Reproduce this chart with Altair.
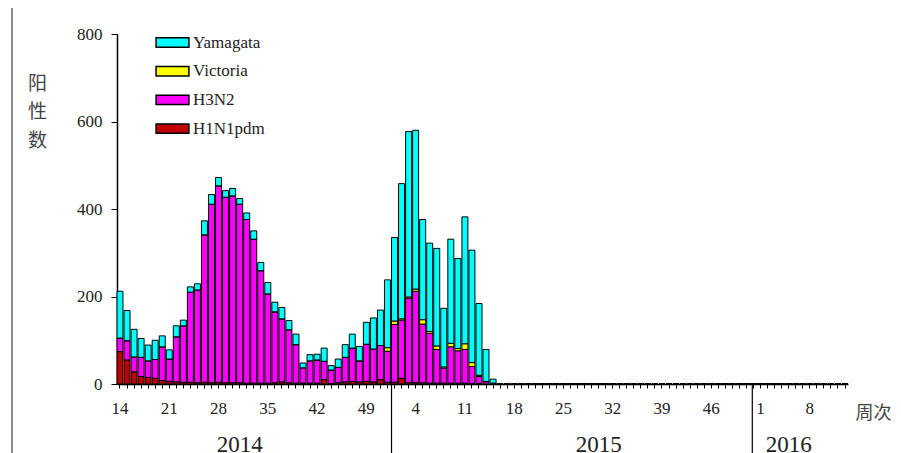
import altair as alt
import pandas as pd

# ---- categories ----
years = [2014] * 39 + [2015] * 52 + [2016] * 13
weeks = list(range(14, 53)) + list(range(1, 53)) + list(range(1, 14))

# ---- series values (2014 wk14 .. 2015 wk15, later weeks are zero) ----
h1n1_vals = [74, 55, 28, 17, 15, 13, 8, 6, 5, 4, 4, 3, 4, 3, 4, 3, 3, 3, 2, 2,
             2, 2, 3, 5, 3, 2, 2, 2, 2, 10, 1, 3, 5, 6, 5, 6, 5, 10, 4,
             4, 13, 3, 3, 3, 2, 2, 2, 2, 2, 2, 1, 1, 0, 0]
h3n2_vals = [31, 44, 34, 44, 38, 43, 77, 51, 103, 129, 206, 212, 337, 408, 449, 424,
             427, 408, 374, 329, 257, 204, 162, 144, 121, 88, 35, 51, 53, 42, 31, 35,
             56, 76, 48, 85, 75, 78, 71,
             132, 133, 193, 209, 134, 114, 77, 34, 83, 74, 77, 39, 16, 5, 2]
victoria_vals = [0] * 38 + [8] + \
                [8, 3, 3, 5, 10, 4, 8, 3, 8, 5, 13, 9, 3, 1, 0]
yamagata_vals = [107, 69, 63, 43, 36, 44, 25, 21, 25, 13, 12, 14, 32, 22, 19, 15,
                 17, 13, 15, 19, 19, 26, 22, 26, 21, 24, 11, 14, 13, 30, 10, 19,
                 29, 32, 33, 50, 71, 81, 155,
                 191, 309, 378, 363, 229, 202, 223, 134, 238, 206, 290, 257, 164, 73, 9]
n_zero = len(weeks) - len(h1n1_vals)
h1n1_vals += [0] * n_zero
h3n2_vals += [0] * n_zero
victoria_vals += [0] * n_zero
yamagata_vals += [0] * n_zero

series_names = ["Yamagata", "Victoria", "H3N2", "H1N1pdm"]
series_colors = ["#00FFFF", "#FFFF00", "#FF00FF", "#C00000"]
stack_rank = {"H1N1pdm": 0, "H3N2": 1, "Victoria": 2, "Yamagata": 3}

tick_labels = ["2014-14", "2014-21", "2014-28", "2014-35", "2014-42", "2014-49",
               "2015-4", "2015-11", "2015-18", "2015-25", "2015-32", "2015-39", "2015-46",
               "2016-1", "2016-8"]
year_names = ["2014", "2015", "2016"]
year_label_keys = ["2014-31", "2015-30", "2016-5"]

keys = [f"{y}-{w}" for y, w in zip(years, weeks)]
series = {"H1N1pdm": h1n1_vals, "H3N2": h3n2_vals,
          "Victoria": victoria_vals, "Yamagata": yamagata_vals}
rows = []
for name, vals in series.items():
    for k, v in zip(keys, vals):
        rows.append({"key": k, "type": name, "count": v, "rank": stack_rank[name]})
df = pd.DataFrame(rows)

FONT = "Liberation Serif"
CJK = "Noto Sans CJK SC"
TXT = "#222222"

label_list = "[" + ",".join(f"'{t}'" for t in tick_labels) + "]"
x_axis = alt.Axis(
    title="周次", titleFont=CJK, titleFontSize=18, titleFontWeight="normal",
    titleColor="#444444", titleX=756, titleY=29, titleAlign="center",
    titleBaseline="middle", titleAngle=0,
    labelExpr=f"indexof({label_list}, datum.value) >= 0 ? split(datum.value, '-')[1] : ''",
    labelAngle=0, labelOverlap=False, labelFont=FONT, labelFontSize=17,
    labelColor=TXT, labelPadding=12, tickSize=4, tickColor="black",
    domainColor="black", domainWidth=1.5, grid=False,
)
x_scale = alt.Scale(domain=keys, paddingInner=0.15, paddingOuter=0.0)

bars = alt.Chart(df).mark_bar(stroke="black", strokeWidth=1).encode(
    x=alt.X("key:N", scale=x_scale, axis=x_axis, sort=keys),
    y=alt.Y("count:Q", stack="zero",
            scale=alt.Scale(domain=[0, 800], nice=False),
            axis=alt.Axis(values=[0, 200, 400, 600, 800], title=["阳", "性", "数"],
                          titleFont=CJK, titleFontSize=19, titleFontWeight="normal",
                          titleColor="#444444", titleAngle=0, titleAlign="center",
                          titleBaseline="top", titleX=-80, titleY=40, titleLineHeight=28.5,
                          labelFont=FONT, labelFontSize=17, labelColor=TXT,
                          labelPadding=9, tickSize=6, tickColor="black",
                          domainColor="black", domainWidth=1.5, grid=False)),
    color=alt.Color("type:N",
                    scale=alt.Scale(domain=series_names, range=series_colors),
                    legend=alt.Legend(title=None, orient="none", legendX=47, legendY=0,
                                      symbolType="M-3.5,-1H3.5V1H-3.5Z", symbolSize=88,
                                      symbolStrokeColor="black", symbolStrokeWidth=1.5,
                                      symbolOpacity=1, labelFont=FONT, labelFontSize=17,
                                      labelColor=TXT, labelOffset=12, rowPadding=10.7,
                                      padding=0)),
    order=alt.Order("rank:Q", sort="ascending"),
)

div1 = alt.Chart(pd.DataFrame({"key": ["2015-1"]})).mark_rule(
    color="black", strokeWidth=1.2).encode(
    x=alt.X("key:N", scale=x_scale, axis=x_axis, sort=keys, bandPosition=0),
    y=alt.value(350), y2=alt.value(425),
)
div2 = alt.Chart(pd.DataFrame({"key": ["2015-52"]})).mark_rule(
    color="black", strokeWidth=1.2).encode(
    x=alt.X("key:N", scale=x_scale, axis=x_axis, sort=keys, bandPosition=0.3),
    y=alt.value(350), y2=alt.value(425),
)

yr_df = pd.DataFrame({"key": year_label_keys, "label": year_names})
year_text = alt.Chart(yr_df).mark_text(
    font=FONT, fontSize=23, color=TXT, baseline="top", align="center"
).encode(
    x=alt.X("key:N", scale=x_scale, axis=x_axis, sort=keys),
    y=alt.value(400),
    text="label:N",
)

frame = alt.Chart(pd.DataFrame({"key": ["2014-14"]})).mark_rule(
    color="#8a8a8a", strokeWidth=2).encode(
    x=alt.value(-105), y=alt.value(-34), y2=alt.value(425),
)

chart = alt.layer(bars, div1, div2, year_text, frame).properties(
    width=731, height=350,
    autosize=alt.AutoSizeParams(type="none"),
    padding={"left": 109, "top": 26, "right": 45, "bottom": 69},
).configure_view(stroke=None)

chart.save("out.html", embed_options={"renderer": "svg", "actions": False})
